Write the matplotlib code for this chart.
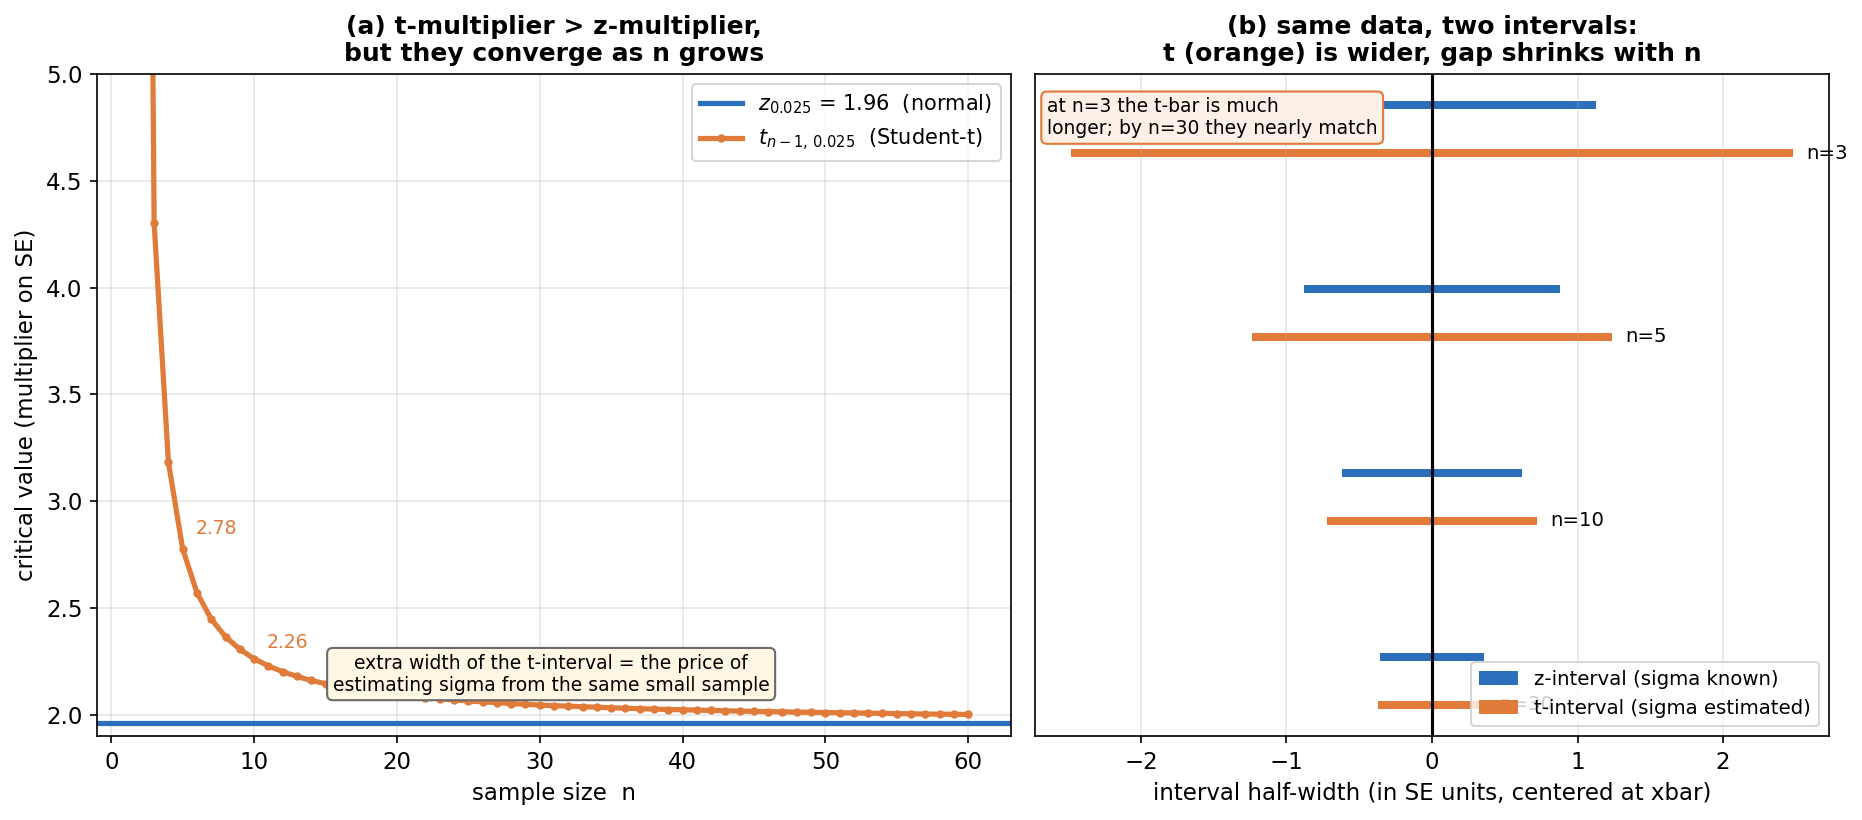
import numpy as np
import matplotlib
matplotlib.use("Agg")
import matplotlib.pyplot as plt

# critical values
n_vals = np.arange(2, 61)
t_crit = [12.706, 4.303, 3.182, 2.776, 2.571, 2.447, 2.365, 2.306, 2.262, 2.228,
          2.201, 2.179, 2.160, 2.145, 2.131, 2.120, 2.110, 2.101, 2.093, 2.086,
          2.080, 2.074, 2.069, 2.064, 2.060, 2.056, 2.052, 2.048, 2.045, 2.042,
          2.040, 2.037, 2.035, 2.032, 2.030, 2.028, 2.026, 2.024, 2.023, 2.021,
          2.020, 2.018, 2.017, 2.015, 2.014, 2.013, 2.012, 2.011, 2.010, 2.009,
          2.008, 2.007, 2.006, 2.005, 2.004, 2.003, 2.002, 2.002, 2.001]
z_crit = 1.96

# panel (b): half-widths in SE units
groups = ["n=3", "n=5", "n=10", "n=30"]
z_half = [1.13, 0.88, 0.62, 0.36]
t_half = [2.48, 1.24, 0.72, 0.37]

blue = "#2c6fbd"
orange = "#e07b39"

W, H = 1862, 820
fig = plt.figure(figsize=(W / 150, H / 150), dpi=150)
ax1 = fig.add_axes([97 / W, 1 - 736 / H, 914 / W, 662 / H])
ax2 = fig.add_axes([1035 / W, 1 - 736 / H, 794 / W, 662 / H])

# ---- (a)
ax1.axhline(z_crit, color=blue, lw=2.5, label=r"$z_{0.025}$ = 1.96  (normal)")
ax1.plot(n_vals, t_crit, color=orange, lw=2.5, marker="o", ms=3,
         label=r"$t_{n-1,\,0.025}$  (Student-t)")
ax1.annotate("2.78", xy=(5, t_crit[3]), xytext=(5.9, t_crit[3] + 0.05),
             color=orange, fontsize=9, va="bottom")
ax1.annotate("2.26", xy=(10, t_crit[8]), xytext=(10.9, t_crit[8] + 0.03),
             color=orange, fontsize=9, va="bottom")
ax1.text(30.8, 2.19, "extra width of the t-interval = the price of\nestimating sigma from the same small sample",
         ha="center", va="center", fontsize=9,
         bbox=dict(boxstyle="round,pad=0.3", fc="#fff7e3", ec="#6b6b6b"))
ax1.set_xlim(-1, 63)
ax1.set_ylim(1.9, 5.0)
ax1.set_xlabel("sample size  n", fontsize=11)
ax1.set_ylabel("critical value (multiplier on SE)", fontsize=11)
ax1.set_title("(a) t-multiplier > z-multiplier,\nbut they converge as n grows",
              fontsize=12, fontweight="bold")
ax1.grid(alpha=0.3)
ax1.legend(loc="upper right", fontsize=10)
ax1.tick_params(labelsize=11)

# ---- (b)
ypos = np.arange(len(groups))
off = 0.13
h = 0.045
ax2.barh(ypos - off, [2 * v for v in z_half], left=[-v for v in z_half], height=h,
         color=blue, label="z-interval (sigma known)")
ax2.barh(ypos + off, [2 * v for v in t_half], left=[-v for v in t_half], height=h,
         color=orange, label="t-interval (sigma estimated)")
for y, v, g in zip(ypos, t_half, groups):
    ax2.text(v + 0.09, y + off, g, va="center", fontsize=9.5)
ax2.axvline(0, color="black", lw=1.5)
lim = 1.1 * max(t_half)
ax2.set_xlim(-lim, lim)
ax2.set_ylim(3.3, -0.3)
ax2.set_yticks([])
ax2.grid(axis="x", alpha=0.3)
ax2.set_xlabel("interval half-width (in SE units, centered at xbar)", fontsize=11)
ax2.set_title("(b) same data, two intervals:\nt (orange) is wider, gap shrinks with n",
              fontsize=12, fontweight="bold")
ax2.text(0.015, 0.965, "at n=3 the t-bar is much\nlonger; by n=30 they nearly match",
         transform=ax2.transAxes, ha="left", va="top", fontsize=9,
         bbox=dict(boxstyle="round,pad=0.3", fc="#fdf0e6", ec=orange))
ax2.legend(loc="lower right", fontsize=9.5)
ax2.tick_params(labelsize=11)

fig.savefig("out.png", dpi=150)
